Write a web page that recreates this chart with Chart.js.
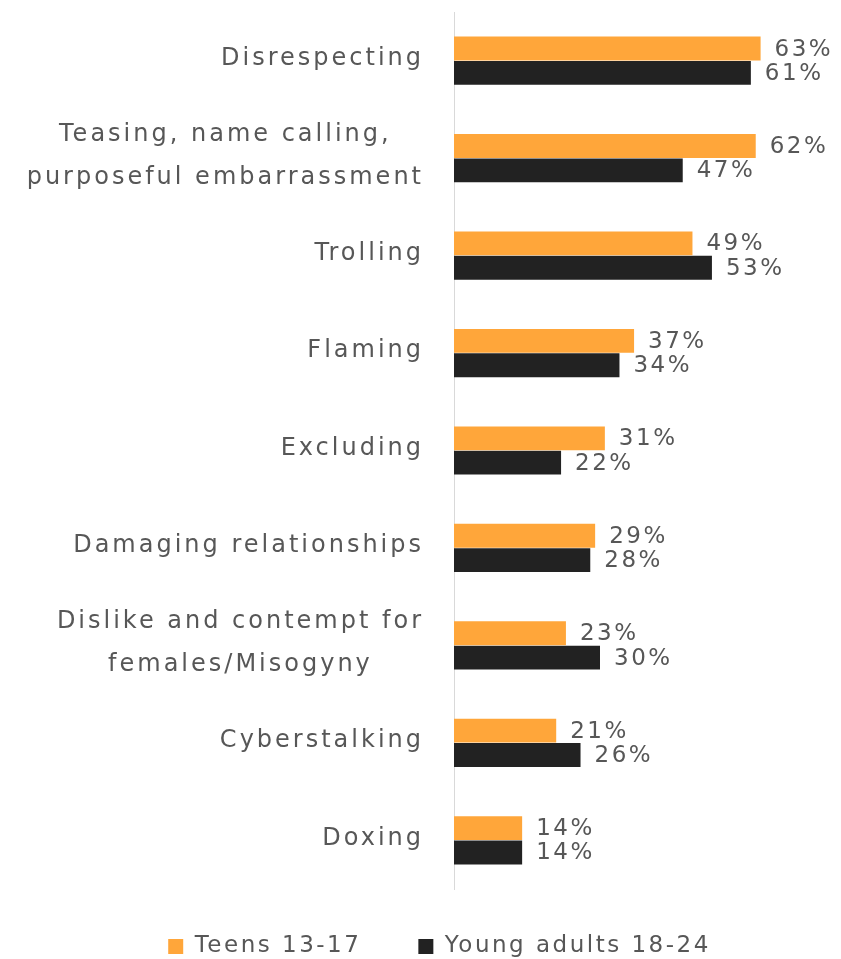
<!DOCTYPE html>
<html>
<head>
<meta charset="utf-8">
<script src="https://cdn.jsdelivr.net/npm/chart.js@4/dist/chart.umd.min.js"></script>
<style>
  html, body { margin: 0; padding: 0; background: #ffffff; }
  #wrap { width: 841px; height: 959px; position: relative; }
</style>
</head>
<body>
<div id="wrap"><canvas id="c" width="841" height="959"></canvas></div>
<script>
const categories = [
  'Disrespecting',
  ['Teasing, name calling,', 'purposeful embarrassment'],
  'Trolling',
  'Flaming',
  'Excluding',
  'Damaging relationships',
  ['Dislike and contempt for', 'females/Misogyny'],
  'Cyberstalking',
  'Doxing'
];
const teens = [63, 62, 49, 37, 31, 29, 23, 21, 14];
const youngAdults = [61, 47, 53, 34, 22, 28, 30, 26, 14];
const seriesNames = ['Teens 13-17', 'Young adults 18-24'];

const FONT = "'DejaVu Sans', sans-serif";
const TEXT = '#575757';
const LS = '2.5px';

const spacingPlugin = {
  id: 'spacing',
  beforeUpdate(chart) { chart.ctx.letterSpacing = LS; },
  beforeLayout(chart) { chart.ctx.letterSpacing = LS; },
  afterLayout(chart) {
    const lg = chart.legend;
    if (lg) { lg.top -= 11; lg.bottom -= 11; lg.left += 30; lg.right += 30; }
  },
  beforeDraw(chart) { chart.ctx.letterSpacing = LS; }
};

// Category labels: each block right-aligned to the axis, its lines centred within the block
const categoryLabels = {
  id: 'categoryLabels',
  afterDraw(chart) {
    const ctx = chart.ctx;
    const y = chart.scales.y;
    const size = 24, lh = size * 1.8, right = 424;
    ctx.save();
    ctx.letterSpacing = '3px';
    ctx.font = size + 'px ' + FONT;
    ctx.fillStyle = TEXT;
    ctx.textAlign = 'center';
    ctx.textBaseline = 'middle';
    chart.data.labels.forEach((lab, i) => {
      const lines = Array.isArray(lab) ? lab : [lab];
      const w = Math.max(...lines.map(l => ctx.measureText(l).width));
      const cx = right - w / 2;
      const cy = y.getPixelForTick(i) - 2;
      lines.forEach((l, j) => {
        ctx.fillText(l, cx, cy + (j - (lines.length - 1) / 2) * lh);
      });
    });
    ctx.restore();
  }
};

const valueLabels = {
  id: 'valueLabels',
  afterDatasetsDraw(chart) {
    const ctx = chart.ctx;
    ctx.save();
    ctx.letterSpacing = LS;
    ctx.font = '23px ' + FONT;
    ctx.fillStyle = TEXT;
    ctx.textAlign = 'left';
    ctx.textBaseline = 'middle';
    chart.data.datasets.forEach((ds, di) => {
      const meta = chart.getDatasetMeta(di);
      meta.data.forEach((bar, i) => {
        ctx.fillText(ds.data[i] + '%', bar.x + 14, bar.y + 1);
      });
    });
    ctx.restore();
  }
};

new Chart(document.getElementById('c'), {
  type: 'bar',
  data: {
    labels: categories,
    datasets: [
      { label: seriesNames[0], data: teens, backgroundColor: '#FFA63A', borderWidth: 0,
        categoryPercentage: 0.5, barPercentage: 0.98 },
      { label: seriesNames[1], data: youngAdults, backgroundColor: '#222222', borderWidth: 0,
        categoryPercentage: 0.5, barPercentage: 0.98 }
    ]
  },
  options: {
    indexAxis: 'y',
    responsive: false,
    animation: false,
    devicePixelRatio: 1,
    layout: { padding: { top: 12, right: 22, left: 0, bottom: -20 } },
    scales: {
      x: {
        min: 0, max: 75,
        display: false
      },
      y: {
        ticks: { display: false },
        grid: { display: false, drawTicks: false },
        border: { display: true, color: '#d9d9d9', width: 1 },
        afterFit(scale) {
          scale.width = 454;
          scale.paddingTop = 0;
          scale.paddingBottom = 0;
        }
      }
    },
    plugins: {
      tooltip: { enabled: false },
      legend: {
        position: 'bottom',
        labels: {
          color: TEXT,
          font: { family: FONT, size: 23 },
          boxWidth: 15,
          boxHeight: 15,
          padding: 57
        }
      }
    }
  },
  plugins: [spacingPlugin, categoryLabels, valueLabels]
});
</script>
</body>
</html>
